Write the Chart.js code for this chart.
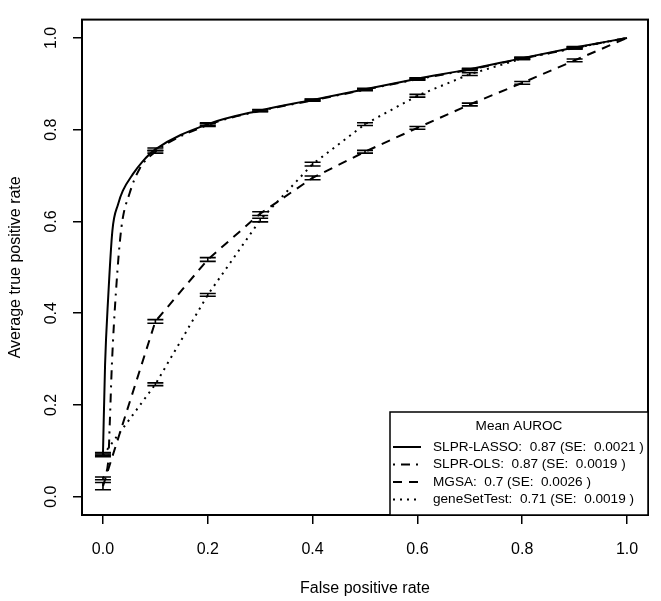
<!DOCTYPE html>
<html>
<head>
<meta charset="utf-8">
<script src="https://cdn.jsdelivr.net/npm/chart.js@4"></script>
<style>
  html, body { margin: 0; padding: 0; background: #fff; }
</style>
</head>
<body>
<canvas id="roc" width="661" height="601"></canvas>
<script>
// false positive rates where the mean curves were evaluated (error bars sit here)
const fpr = [0, 0.1, 0.2, 0.3, 0.4, 0.5, 0.6, 0.7, 0.8, 0.9, 1.0];

const lassoTpr = [0.093, 0.757, 0.812, 0.842, 0.865, 0.888, 0.911, 0.932, 0.956, 0.979, 1.0];
const olsTpr   = [0.040, 0.752, 0.810, 0.841, 0.864, 0.887, 0.910, 0.931, 0.955, 0.978, 1.0];
const mgsaTpr  = [0.023, 0.382, 0.517, 0.617, 0.695, 0.752, 0.804, 0.855, 0.902, 0.951, 1.0];
const gstTpr   = [0.090, 0.245, 0.440, 0.603, 0.725, 0.812, 0.874, 0.921, 0.955, 0.978, 1.0];

// half heights of the error bars
const lassoErr = [0.003, 0.003, 0.003, 0.002, 0.002, 0.002, 0.002, 0.002, 0.002, 0.002, 0];
const olsErr   = [0.003, 0.003, 0.003, 0.002, 0.002, 0.002, 0.002, 0.002, 0.002, 0.002, 0];
const mgsaErr  = [0.008, 0.004, 0.004, 0.004, 0.004, 0.003, 0.003, 0.003, 0.003, 0.003, 0];
const gstErr   = [0.003, 0.003, 0.003, 0.004, 0.004, 0.003, 0.003, 0.003, 0.002, 0.002, 0];

const lassoEarlyFpr = [0.004, 0.010, 0.018, 0.029, 0.038, 0.057, 0.075];
const lassoEarlyTpr = [0.287, 0.435, 0.580, 0.638, 0.667, 0.703, 0.730];
const olsEarlyFpr = [0.010, 0.013, 0.017, 0.025, 0.035, 0.051, 0.070];
const olsEarlyTpr = [0.076, 0.160, 0.287, 0.450, 0.585, 0.662, 0.715];

const xTicks = [0, 0.2, 0.4, 0.6, 0.8, 1.0];
const yTicks = [0, 0.2, 0.4, 0.6, 0.8, 1.0];

const legendTitle = 'Mean AUROC';
const legendLabels = [
  'SLPR-LASSO:  0.87 (SE:  0.0021 )',
  'SLPR-OLS:  0.87 (SE:  0.0019 )',
  'MGSA:  0.7 (SE:  0.0026 )',
  'geneSetTest:  0.71 (SE:  0.0019 )'
];

function pts(xs, ys, exs, eys) {
  let out = xs.map((v, i) => ({x: v, y: ys[i]}));
  if (exs) out = out.concat(exs.map((v, i) => ({x: v, y: eys[i]})));
  return out.sort((a, b) => a.x - b.x);
}

const dashes = [[], [2, 6, 9, 6], [9, 7], [2, 5]];
const series = [
  {tpr: lassoTpr, err: lassoErr},
  {tpr: olsTpr, err: olsErr},
  {tpr: mgsaTpr, err: mgsaErr},
  {tpr: gstTpr, err: gstErr}
];

const FONT = "'Liberation Sans', Arial, Helvetica, sans-serif";
Chart.defaults.font.family = FONT;
Chart.defaults.color = '#000';

// box round the plot region (R style)
const frame = {
  id: 'frame',
  afterDraw(chart) {
    const {ctx, chartArea: a} = chart;
    ctx.save();
    ctx.strokeStyle = '#000';
    ctx.lineWidth = 2;
    ctx.strokeRect(a.left, a.top, a.right - a.left, a.bottom - a.top);
    ctx.restore();
  }
};

const errorBars = {
  id: 'errorBars',
  afterDatasetsDraw(chart) {
    const {ctx, scales: {x, y}} = chart;
    ctx.save();
    ctx.strokeStyle = '#000';
    ctx.lineWidth = 1.6;
    series.forEach(s => {
      s.tpr.forEach((v, i) => {
        if (!s.err[i]) return;
        const px = x.getPixelForValue(fpr[i]);
        const lo = y.getPixelForValue(v - s.err[i]);
        const hi = y.getPixelForValue(v + s.err[i]);
        ctx.beginPath();
        ctx.moveTo(px, lo); ctx.lineTo(px, hi);
        ctx.moveTo(px - 8, lo); ctx.lineTo(px + 8, lo);
        ctx.moveTo(px - 8, hi); ctx.lineTo(px + 8, hi);
        ctx.stroke();
      });
    });
    ctx.restore();
  }
};

// legend in the bottom right corner, as R's legend() draws it
const boxLegend = {
  id: 'boxLegend',
  afterDraw(chart) {
    const {ctx, chartArea: a} = chart;
    const left = 390, right = a.right, bottom = a.bottom, top = 412;
    ctx.save();
    ctx.fillStyle = '#fff';
    ctx.fillRect(left, top, right - left, bottom - top);
    ctx.strokeStyle = '#000';
    ctx.lineWidth = 1.5;
    ctx.strokeRect(left, top, right - left, bottom - top);
    ctx.fillStyle = '#000';
    ctx.font = '13.6px ' + FONT;
    ctx.textBaseline = 'middle';
    ctx.textAlign = 'center';
    ctx.fillText(legendTitle, (left + right) / 2, 426);
    ctx.textAlign = 'left';
    legendLabels.forEach((t, i) => {
      const yy = 447 + i * 17.5;
      ctx.lineWidth = 2;
      ctx.setLineDash(dashes[i]);
      ctx.beginPath();
      ctx.moveTo(393, yy); ctx.lineTo(421, yy);
      ctx.stroke();
      ctx.setLineDash([]);
      ctx.fillText(t, 433, yy);
    });
    ctx.restore();
  }
};

const names = ['SLPR-LASSO', 'SLPR-OLS', 'MGSA', 'geneSetTest'];
const datasets = [
  pts(fpr, lassoTpr, lassoEarlyFpr, lassoEarlyTpr),
  pts(fpr, olsTpr, olsEarlyFpr, olsEarlyTpr),
  pts(fpr, mgsaTpr),
  pts(fpr, gstTpr)
].map((d, i) => ({
  label: names[i],
  data: d,
  borderColor: '#000',
  borderWidth: 2,
  borderDash: dashes[i],
  pointRadius: 0,
  fill: false,
  cubicInterpolationMode: i < 2 ? 'monotone' : 'default',
  tension: 0
}));

new Chart(document.getElementById('roc'), {
  type: 'line',
  data: {datasets: datasets},
  plugins: [frame, errorBars, boxLegend],
  options: {
    responsive: false,
    animation: false,
    layout: {padding: {top: 3, right: 13, left: 0, bottom: 0}},
    plugins: {legend: {display: false}, tooltip: {enabled: false}},
    scales: {
      x: {
        type: 'linear',
        min: -0.04, max: 1.04,
        afterBuildTicks: s => { s.ticks = xTicks.map(v => ({value: v})); },
        afterFit: s => { s.height = 86; },
        ticks: {font: {size: 16}, padding: 16, maxRotation: 0, callback: v => v.toFixed(1)},
        grid: {drawOnChartArea: false, color: '#000', lineWidth: 1.5, tickLength: 9},
        border: {display: true, color: '#000', width: 2},
        title: {display: true, text: 'False positive rate', font: {size: 16}, padding: {top: 0, bottom: 3}}
      },
      y: {
        type: 'linear',
        min: -0.04, max: 1.04,
        afterBuildTicks: s => { s.ticks = yTicks.map(v => ({value: v})); },
        afterFit: s => { s.width = 82; },
        ticks: {font: {size: 16}, padding: 10, minRotation: 90, maxRotation: 90, crossAlign: 'center', callback: v => v.toFixed(1)},
        grid: {drawOnChartArea: false, color: '#000', lineWidth: 1.5, tickLength: 9},
        border: {display: true, color: '#000', width: 2},
        title: {display: true, text: 'Average true positive rate', font: {size: 16}, padding: {top: 6, bottom: 0}}
      }
    }
  }
});
</script>
</body>
</html>
